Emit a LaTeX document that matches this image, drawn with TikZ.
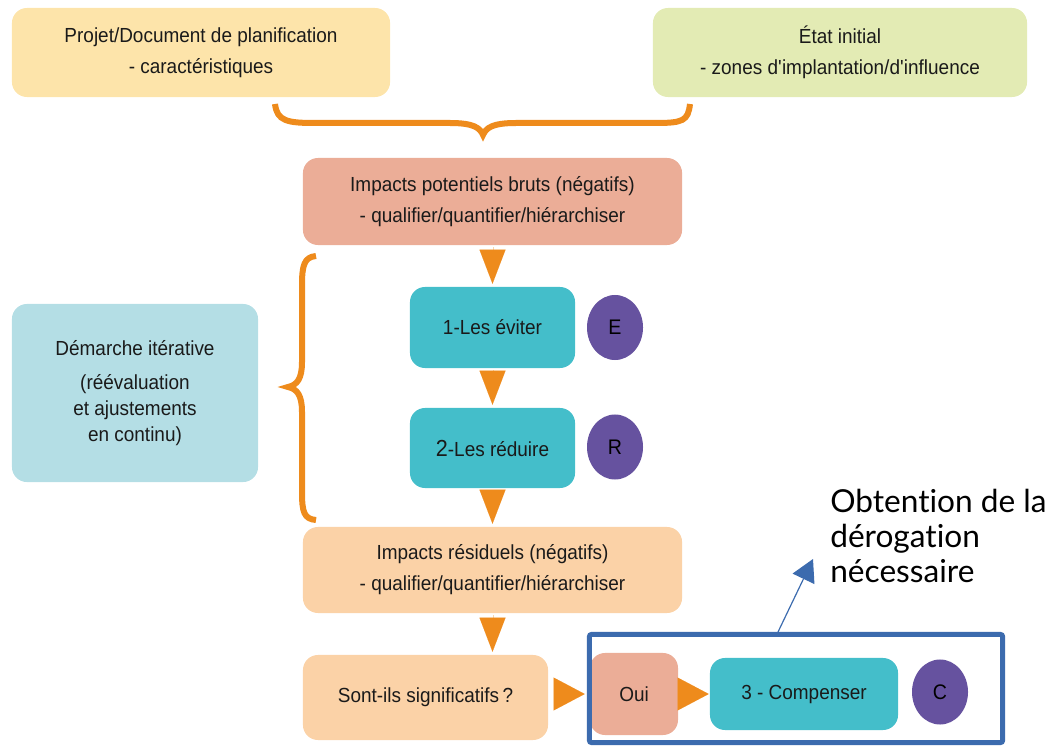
\documentclass[tikz,border=0pt]{standalone}
\usepackage{fontspec}
\setmainfont{Liberation Sans}[FakeStretch=0.93]
\newfontfamily\notefont{Lato}[Ligatures={NoCommon,NoRare}]
\usetikzlibrary{arrows.meta,shapes.geometric}

\definecolor{jaune}{HTML}{FDE4AA}
\definecolor{vertpale}{HTML}{E3EBB4}
\definecolor{saumon}{HTML}{EBAD97}
\definecolor{peche}{HTML}{FBD2A7}
\definecolor{bleupale}{HTML}{B4DEE5}
\definecolor{turquoise}{HTML}{44BECA}
\definecolor{violet}{HTML}{66529F}
\definecolor{orangeA}{HTML}{EE8B1C}
\definecolor{bleucadre}{HTML}{3C6BAE}
\definecolor{texte}{HTML}{1A1A1A}

\begin{document}
\begin{tikzpicture}[x=0.025cm, y=-0.025cm,
        box/.style={rounded corners=0.375cm, inner sep=0pt, align=center, text=texte,
            font=\fontsize{14.5}{22}\selectfont},
        pastille/.style={ellipse, fill=violet, inner sep=0pt, minimum width=1.4cm,
            minimum height=1.625cm, text=black, font=\fontsize{15}{18}\selectfont},
        accolade/.style={draw=orangeA, line width=0.15cm},
        vflow/.style={draw=orangeA, line width=0.01pt, -{Triangle[length=0.85cm,width=0.65cm]},
            shorten <=0.05cm, shorten >=0.075cm},
        hflow/.style={draw=orangeA, line width=0.01pt, -{Triangle[length=0.775cm,width=0.82cm]}},
        derog/.style={draw=bleucadre, line width=0.03cm, -{Triangle[length=0.55cm,width=0.6cm]}},
        note/.style={inner sep=0pt, align=left, text=black,
            font=\notefont\fontsize{22.5}{25}\selectfont}]
    \useasboundingbox (0,0) rectangle (1057,747);

    %%top boxes
    \node[box, fill=jaune, minimum width=9.45cm, minimum height=2.225cm] (proj) at (201,52.5)
        {Projet/Document de planification\\- caractéristiques};
    \node[box, fill=vertpale, minimum width=9.35cm, minimum height=2.225cm] (etat) at (840,52.5)
        {État initial\\- zones d\textquotesingle implantation/d\textquotesingle influence};

    %%braces
    \draw[accolade] (275,104) .. controls (277,121) and (287,123) .. (315,123) -- (450,123)
        .. controls (474,123) and (480,128) .. (483,135)
        .. controls (486,128) and (492,123) .. (516,123) -- (655,123)
        .. controls (683,123) and (688,121) .. (690,104);
    \draw[accolade] (316,256) .. controls (304,257) and (302,266) .. (302,285) -- (302,362)
        .. controls (302,379) and (297,385) .. (288,387)
        .. controls (297,389) and (302,395) .. (302,412) -- (302,492)
        .. controls (302,512) and (304,519) .. (316,520);

    %%main column
    \node[box, fill=saumon, minimum width=9.475cm, minimum height=2.175cm] (brut) at (492.5,201.5)
        {Impacts potentiels bruts (négatifs)\\- qualifier/quantifier/hiérarchiser};
    \node[box, fill=turquoise, minimum width=4.125cm, minimum height=2.025cm] (evit) at (492.5,327.5)
        {1-Les éviter};
    \node[pastille] (E) at (615,327.5) {E};
    \node[box, fill=turquoise, minimum width=4.125cm, minimum height=2cm] (redu) at (492.5,448)
        {{\fontsize{16.5}{22}\selectfont 2}-Les réduire};
    \node[pastille] (R) at (615,447) {R};
    \node[box, fill=peche, minimum width=9.475cm, minimum height=2.15cm] (resid) at (492.5,570)
        {Impacts résiduels (négatifs)\\- qualifier/quantifier/hiérarchiser};
    \node[box, fill=peche, minimum width=6.125cm, minimum height=2.125cm] (sign) at (425.5,697.5)
        {Sont-ils significatifs\,?};

    %%left box
    \node[box, fill=bleupale, minimum width=6.15cm, minimum height=4.45cm,
        font=\fontsize{14.5}{18.5}\selectfont] (demarche) at (135,393)
        {Démarche itérative\\[6pt](réévaluation\\et ajustements\\en continu)};

    %%bottom row
    \node[box, fill=saumon, minimum width=2.2cm, minimum height=2.05cm] (oui) at (634,694) {Oui};
    \node[box, fill=turquoise, minimum width=4.7cm, minimum height=1.8cm] (comp) at (804,694)
        {3 - Compenser};
    \node[pastille] (C) at (940,692) {C};
    \node[draw=bleucadre, line width=0.125cm, rounded corners=0.05cm, inner sep=0pt,
        minimum width=10.325cm, minimum height=2.7cm] (cadre) at (796,688.5) {};

    %%flow
    \draw[vflow] (brut.south) -- (evit.north);
    \draw[vflow] (evit.south) -- (redu.north);
    \draw[vflow] (redu.south) -- (resid.north);
    \draw[vflow] (resid.south) -- (resid.south |- sign.north);
    \draw[hflow, shorten <=0.15cm, shorten >=0.125cm] (oui.west -| sign.east) -- (oui.west);
    \draw[hflow, shorten >=0.025cm] (oui.east) -- (comp.west);

    %%note
    \node[note, anchor=north west] (obtention) at (830,489)
        {Obtention de la\\dérogation\\nécessaire};
    \coordinate (pointe) at (813,559);
    \draw[derog] ([xshift=-0.45cm]cadre.north) -- (pointe);
\end{tikzpicture}
\end{document}
